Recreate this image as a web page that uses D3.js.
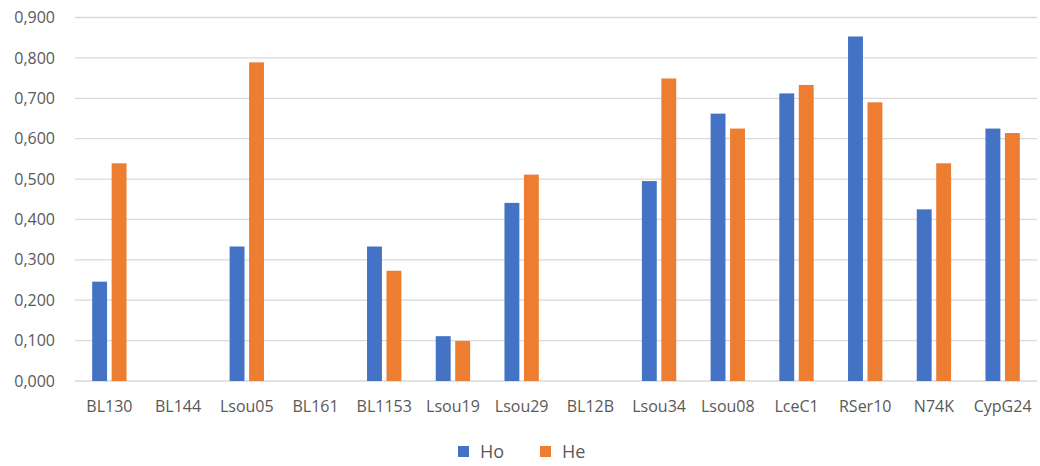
<!DOCTYPE html>
<html>
<head>
<meta charset="utf-8">
<script src="https://cdn.jsdelivr.net/npm/d3@7"></script>
<style>
  html, body { margin: 0; padding: 0; background: #fff; }
  svg { display: block; }
  text { font-family: "Open Sans", "Noto Sans", sans-serif; fill: #595959; }
</style>
</head>
<body>
<svg id="chart" width="1040" height="466"></svg>
<script>
// Loci and their observed (Ho) and expected (He) heterozygosity
const loci = ["BL130", "BL144", "Lsou05", "BL161", "BL1153", "Lsou19", "Lsou29",
              "BL12B", "Lsou34", "Lsou08", "LceC1", "RSer10", "N74K", "CypG24"];
const hoValues = [0.246, 0, 0.333, 0, 0.333, 0.111, 0.441, 0, 0.495, 0.662, 0.712, 0.853, 0.425, 0.625];
const heValues = [0.539, 0, 0.789, 0, 0.273, 0.099, 0.511, 0, 0.749, 0.625, 0.733, 0.690, 0.539, 0.614];
const seriesNames = ["Ho", "He"];
const seriesColors = ["#4472C4", "#ED7D31"];
const yTicks = [0, 0.1, 0.2, 0.3, 0.4, 0.5, 0.6, 0.7, 0.8, 0.9];

const svg = d3.select("#chart");
const plotLeft = 75, plotRight = 1037, plotTop = 17.5, plotBottom = 381;

const x0 = d3.scaleBand().domain(loci).range([plotLeft, plotRight])
  .paddingInner(0.5).paddingOuter(0.25);
const x1 = d3.scaleBand().domain(seriesNames).range([0, x0.bandwidth()])
  .paddingInner(0.235);
const y = d3.scaleLinear().domain([0, 0.9]).range([plotBottom, plotTop]);
const color = d3.scaleOrdinal().domain(seriesNames).range(seriesColors);

const locale = d3.formatLocale({ decimal: ",", thousands: ".", grouping: [3], currency: ["", ""] });
const fmt = locale.format(".3f");

// horizontal gridlines
svg.append("g")
  .selectAll("line").data(yTicks).join("line")
  .attr("x1", plotLeft).attr("x2", plotRight)
  .attr("y1", d => y(d)).attr("y2", d => y(d))
  .attr("stroke", "#d9d9d9").attr("stroke-width", 1.3);

// y axis labels
const yAxis = svg.append("g").attr("transform", `translate(${plotLeft - 20},0)`)
  .call(d3.axisLeft(y).tickValues(yTicks).tickFormat(fmt).tickSize(0).tickPadding(0));
yAxis.select(".domain").remove();
yAxis.selectAll("text").attr("font-size", 16).style("font-family", "'Open Sans', sans-serif").attr("fill", "#595959");

// x axis labels
const xAxis = svg.append("g").attr("transform", `translate(0,${plotBottom})`)
  .call(d3.axisBottom(x0).tickSize(0).tickPadding(20));
xAxis.select(".domain").remove();
xAxis.selectAll("text").attr("font-size", 16).style("font-family", "'Open Sans', sans-serif").attr("fill", "#595959");

// bars
const rows = loci.map((l, i) => ({ locus: l, values: [hoValues[i], heValues[i]] }));
svg.append("g")
  .selectAll("g").data(rows).join("g")
  .attr("transform", d => `translate(${x0(d.locus)},0)`)
  .selectAll("rect").data(d => d.values.map((v, j) => ({ key: seriesNames[j], value: v })))
  .join("rect")
  .attr("x", d => x1(d.key))
  .attr("width", x1.bandwidth())
  .attr("y", d => y(d.value))
  .attr("height", d => y(0) - y(d.value))
  .attr("fill", d => color(d.key));

// legend
const legendX = [458, 540];
const legend = svg.append("g");
seriesNames.forEach((name, i) => {
  legend.append("rect").attr("x", legendX[i]).attr("y", 446).attr("width", 11).attr("height", 11)
    .attr("fill", color(name));
  legend.append("text").attr("x", legendX[i] + 22).attr("y", 451.5).attr("dy", "0.35em")
    .attr("font-size", 18).text(name);
});
</script>
</body>
</html>
